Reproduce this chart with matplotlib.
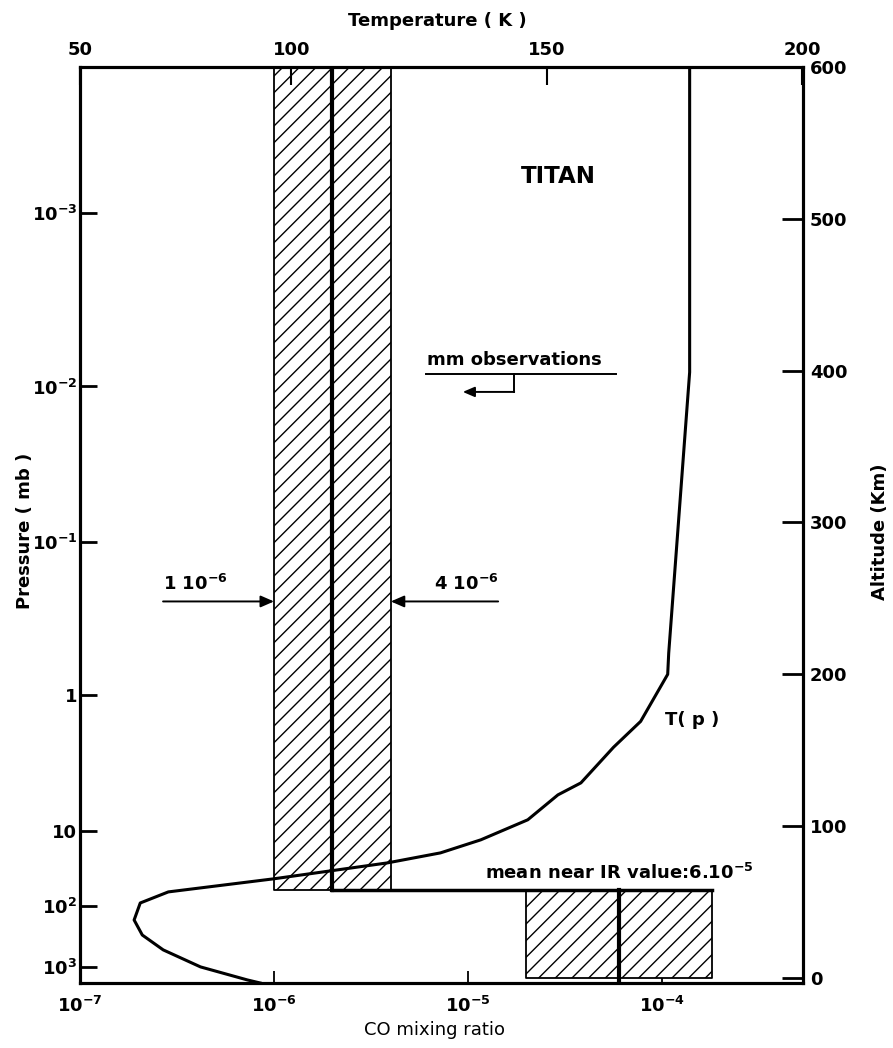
import numpy as np
import matplotlib
matplotlib.use("Agg")
import matplotlib.pyplot as plt
from matplotlib.ticker import NullLocator

# Perfil de temperatura T(p) de Titã (K) em função da altitude (km)
temp_K = [178, 178, 173.9, 173.7, 168.4, 163.1, 156.7, 152.2, 146.3, 137.1, 129.2,
          118.8, 96.5, 75.9, 70.4, 69.2, 70.8, 74.9, 82.2, 91.4, 93.9]
temp_alt_km = [600, 399, 214, 200, 169, 152, 128.5, 120.6, 104.2, 91, 82.4,
               75.8, 65.3, 56.7, 49.4, 38.2, 28.3, 18.5, 7.3, -1.3, -3.3]

# Razão de mistura de CO: observações mm (estratosfera) e IR próximo (troposfera)
mm_co = [1e-6, 2e-6, 4e-6]      # min, médio, max
mm_alt_km = [58, 600]
ir_co = [2e-5, 6e-5, 1.8e-4]    # min, médio, max
ir_alt_km = [0, 58]

# Eixo de pressão (mb) posicionado em altitude (km)
pressao_labels = [r'$\mathbf{10^{-3}}$', r'$\mathbf{10^{-2}}$', r'$\mathbf{10^{-1}}$', '1', '10',
                  r'$\mathbf{10^{2}}$', r'$\mathbf{10^{3}}$']
pressao_alt_km = [503.6, 389.6, 287.4, 186.6, 96.9, 47.5, 7.3]

co_ticks = [1e-7, 1e-6, 1e-5, 1e-4]
co_tick_labels = [r'$\mathbf{10^{-7}}$', r'$\mathbf{10^{-6}}$', r'$\mathbf{10^{-5}}$',
                  r'$\mathbf{10^{-4}}$']
temp_ticks = [58.6, 100, 150, 200]
temp_tick_labels = ['50', '100', '150', '200']
alt_ticks = [0, 100, 200, 300, 400, 500, 600]

plt.rcParams['font.family'] = 'DejaVu Sans'
plt.rcParams['font.weight'] = 'bold'
plt.rcParams['hatch.linewidth'] = 1.0

W, H = 893, 1048
fig = plt.figure(figsize=(W / 100, H / 100), dpi=100)
ax = fig.add_axes([80 / W, 1 - 983 / H, 723 / W, 916 / H])

ax.set_xscale('log')
ax.set_xlim(1e-7, 5.33e-4)
ax.set_ylim(-3.3, 600)

# banda das observações mm
ax.fill_betweenx(mm_alt_km, mm_co[0], mm_co[2], facecolor='white', edgecolor='black',
                 hatch='//', linewidth=1.3, zorder=2)
ax.plot([mm_co[1], mm_co[1]], mm_alt_km, color='black', lw=3, zorder=3)

# caixa do valor IR
ax.fill_betweenx(ir_alt_km, ir_co[0], ir_co[2], facecolor='white', edgecolor='black',
                 hatch='//', linewidth=1.3, zorder=2)
ax.plot([ir_co[1], ir_co[1]], [-3.3, ir_alt_km[1]], color='black', lw=3, zorder=3)
ax.plot([mm_co[1], ir_co[2]], [mm_alt_km[0], mm_alt_km[0]], color='black', lw=2.5, zorder=3)

# setas dos limites
seta = dict(arrowstyle='-|>,head_length=0.8,head_width=0.35', lw=1.4,
            color='black', shrinkA=0, shrinkB=0)
ax.annotate('', xy=(mm_co[0], 248), xytext=(2.68e-7, 248), arrowprops=seta)
ax.text(2.68e-7, 253, r'1 $\mathbf{10^{-6}}$', ha='left', va='bottom', fontsize=13)
ax.annotate('', xy=(mm_co[2], 248), xytext=(1.43e-5, 248), arrowprops=seta)
ax.text(1.43e-5, 253, r'4 $\mathbf{10^{-6}}$', ha='right', va='bottom', fontsize=13)

# mm observations
ax.text(6.15e-6, 401, 'mm observations', ha='left', va='bottom', fontsize=13)
ax.plot([6.1e-6, 5.8e-5], [398, 398], color='black', lw=1.4)
ax.plot([1.73e-5, 1.73e-5], [398, 386], color='black', lw=1.4)
ax.annotate('', xy=(9.4e-6, 386), xytext=(1.73e-5, 386),
            arrowprops=dict(arrowstyle='-|>,head_length=0.7,head_width=0.3', lw=1.4,
                            color='black', shrinkA=0, shrinkB=0))

ax.text(2.91e-5, 528, 'TITAN', ha='center', va='center', fontsize=16.5)
ax.text(1.43e-4, 170, 'T( p )', ha='center', va='center', fontsize=13)
ax.text(1.22e-5, 69, r'mean near IR value:6.$\mathbf{10^{-5}}$', ha='left', va='center',
        fontsize=13)

# eixo esquerdo: pressão
ax.set_yticks(pressao_alt_km)
ax.set_yticklabels(pressao_labels)
ax.set_xticks(co_ticks)
ax.set_xticklabels(co_tick_labels)
ax.xaxis.set_minor_locator(NullLocator())
ax.yaxis.set_minor_locator(NullLocator())
ax.tick_params(axis='y', direction='in', length=12, width=2, pad=2, labelsize=13)
ax.tick_params(axis='x', direction='in', length=9, width=1.3, pad=9, labelsize=13)

# eixo superior: temperatura
axT = ax.twiny()
axT.set_xlim(58.6, 200.2)
axT.plot(temp_K, temp_alt_km, color='black', lw=2.2, zorder=4)
axT.set_xticks(temp_ticks)
axT.set_xticklabels(temp_tick_labels)
axT.tick_params(axis='x', direction='in', length=13, width=1.5, pad=6, labelsize=13)

# eixo direito: altitude
axR = ax.twinx()
axR.set_ylim(ax.get_ylim())
axR.set_yticks(alt_ticks)
axR.tick_params(axis='y', direction='in', length=15, width=2, pad=5, labelsize=13)

for a in (ax, axT, axR):
    for s in a.spines.values():
        s.set_linewidth(2.2)

fig.text(437 / W, 1 - 21 / H, 'Temperature ( K )', ha='center', va='center', fontsize=13)
fig.text(435 / W, 1 - 1030 / H, 'CO mixing ratio', ha='center', va='center', fontsize=13,
         fontweight='normal')
fig.text(25 / W, 1 - 531 / H, 'Pressure ( mb )', ha='center', va='center', rotation=90,
         fontsize=13)
fig.text(880 / W, 1 - 532 / H, 'Altitude (Km)', ha='center', va='center', rotation=90,
         fontsize=13)

fig.savefig('out.png', dpi=100)
